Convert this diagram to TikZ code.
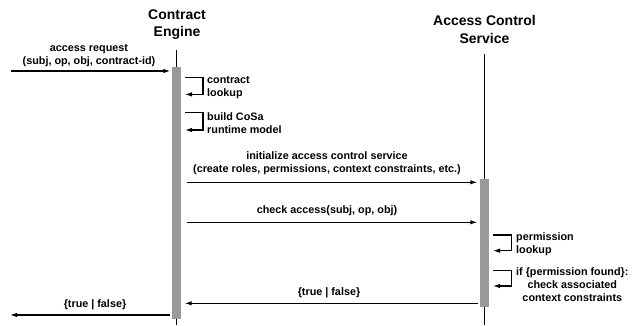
\documentclass[tikz,border=0pt]{standalone}
\usepackage{fontspec}
\setmainfont{Liberation Sans}
\usetikzlibrary{arrows.meta, calc}
\tikzset{
    my-title/.style={
        font=\fontsize{14}{17.5}\selectfont\bfseries, align=center, inner sep=0pt
    },
    my-label/.style={
        font=\fontsize{10.8}{13}\selectfont\bfseries, align=center, inner sep=0pt
    },
    my-lifeline/.style={
        line width=0.9pt
    },
    my-bar/.style={
        fill=black!40, minimum width=9pt, inner sep=0pt
    },
    my-msg/.style={
        line width=1.2pt, -{Latex[length=7pt, width=4.5pt]}
    },
}

\begin{document}
\begin{tikzpicture}[x=1pt, y=-1pt]

        \useasboundingbox (0, 0) rectangle (640, 325);

        % LIFELINES ----------------------------------------------------------------------------------

        % CONTRACT ENGINE
        \node[my-title] (CE)     at (177, 24.4)   {Contract\\Engine};
        \coordinate[]   (CETOP)  at (176.5, 50)   {};
        \coordinate[]   (CEBOT)  at (176.5, 325)  {};
        \draw[my-lifeline] (CETOP) -- (CEBOT);
        \node[my-bar, minimum height=252pt] (CEBAR) at (176.5, 193) {};

        % ACCESS CONTROL SERVICE
        \node[my-title] (ACS)    at (484.5, 29.5) {Access Control\\Service};
        \coordinate[]   (ACSTOP) at (484, 54)     {};
        \coordinate[]   (ACSBOT) at (484, 325)    {};
        \draw[my-lifeline] (ACSTOP) -- (ACSBOT);
        \node[my-bar, minimum height=128pt] (ACSBAR) at (484.5, 243) {};

        % MESSAGES -----------------------------------------------------------------------------------

        % ACCESS REQUEST
        \coordinate[] (REQIN) at (11, 71) {};
        \draw[my-msg] (REQIN) -- ($(REQIN -| CEBAR.west) + (-1.5, 0)$);
        \node[my-label] (REQLABEL) at (89, 56) {access request\\(subj, op, obj, contract-id)};

        % SELF CALLS - CONTRACT ENGINE
        \coordinate[] (LOOKUP) at (185, 77.7) {};
        \draw[my-msg] (LOOKUP) -- ++(18, 0) -- ++(0, 16.7) -- ($(LOOKUP) + (0, 16.7)$);
        \node[my-label, anchor=west, align=left] (LOOKUPLABEL) at (207, 87.5) {contract\\lookup};

        \coordinate[] (BUILD) at (185, 112.7) {};
        \draw[my-msg] (BUILD) -- ++(18, 0) -- ++(0, 17.3) -- ($(BUILD) + (0, 17.3)$);
        \node[my-label, anchor=west, align=left] (BUILDLABEL) at (207, 122.8) {build CoSa\\runtime model};

        % INITIALIZE ACCESS CONTROL SERVICE
        \coordinate[] (INITOUT) at (186.5, 182.3) {};
        \draw[my-msg] (INITOUT) -- ($(INITOUT -| ACSBAR.west) + (-2.5, 0)$);
        \node[my-label] (INITLABEL) at (327, 163.5) {initialize access control service\\(create roles, permissions, context constraints, etc.)};

        % CHECK ACCESS
        \coordinate[] (CHECKOUT) at (186.5, 222.3) {};
        \draw[my-msg] (CHECKOUT) -- ($(CHECKOUT -| ACSBAR.west) + (-2.5, 0)$);
        \node[my-label] (CHECKLABEL) at (327, 210.5) {check access(subj, op, obj)};

        % SELF CALLS - ACCESS CONTROL SERVICE
        \coordinate[] (PERM) at (493, 235) {};
        \draw[my-msg] (PERM) -- ++(18.5, 0) -- ++(0, 15.7) -- ($(PERM) + (0, 15.7)$);
        \node[my-label, anchor=west, align=left] (PERMLABEL) at (516, 244) {permission\\lookup};

        \coordinate[] (CONSTR) at (493, 270.7) {};
        \draw[my-msg] (CONSTR) -- ++(18.5, 0) -- ++(0, 15.3) -- ($(CONSTR) + (0, 15.3)$);
        \node[my-label, anchor=west] (CONSTRLABEL) at (516, 284.5) {if \{permission found\}:\\check associated\\context constraints};

        % RESULTS
        \coordinate[] (RESACS) at (478, 303.3) {};
        \draw[my-msg] (RESACS) -- ($(RESACS -| CEBAR.east) + (3.5, 0)$);
        \node[my-label] (RESACSLABEL) at (329, 292.8) {\{true | false\}};

        \coordinate[] (RESOUT) at (10, 315) {};
        \draw[my-msg] ($(RESOUT -| CEBAR.west) + (-1.5, 0)$) -- (RESOUT);
        \node[my-label] (RESOUTLABEL) at (95, 305) {\{true | false\}};

\end{tikzpicture}
\end{document}
